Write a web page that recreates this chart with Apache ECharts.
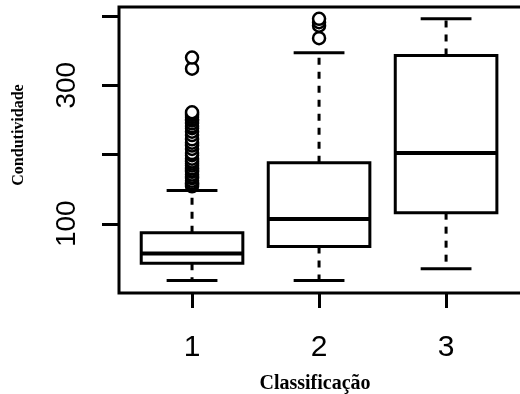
<!DOCTYPE html>
<html>
<head>
<meta charset="utf-8">
<script src="https://cdn.jsdelivr.net/npm/echarts@6/dist/echarts.min.js"></script>
<style>html,body{margin:0;padding:0;background:#fff;}#c{width:520px;height:394px;}</style>
</head>
<body>
<div id="c"></div>
<script>
var categories = [1, 2, 3];
var lowerWhisker = [18, 18, 35];
var q1 = [43, 67, 116];
var median = [57, 107, 202];
var q3 = [87, 188, 343];
var upperWhisker = [148, 347, 396];
var outliers1 = [154, 157, 159, 162, 166, 168, 171, 175, 177, 180, 184, 187, 190, 194, 199, 202, 208, 213, 217, 222, 228, 233, 238, 241, 245, 249, 251, 254, 257, 259, 261, 324, 340];
var outliers2 = [368, 386, 391, 396];
var outliers3 = [];
var yTicks = [100, 200, 300, 400];
var yLabels = [100, 300];

var boxData = categories.map(function (c, i) {
  return [c, lowerWhisker[i], q1[i], median[i], q3[i], upperWhisker[i]];
});
var outData = [];
[outliers1, outliers2, outliers3].forEach(function (arr, i) {
  arr.forEach(function (v) { outData.push([categories[i], v]); });
});

var chart = echarts.init(document.getElementById('c'));
chart.setOption({
  animation: false,
  backgroundColor: '#fff',
  grid: { left: 119, top: 7, width: 409, height: 286, outerBoundsMode: 'none', containLabel: false, show: true, borderColor: '#000', borderWidth: 3, backgroundColor: 'transparent' },
  xAxis: {
    type: 'value', min: 0.425, max: 3.645,
    axisLine: { show: false },
    splitLine: { show: false },
    axisTick: { show: true, customValues: categories, length: 15, lineStyle: { color: '#000', width: 3 } },
    axisLabel: { customValues: categories, margin: 40, fontFamily: 'Liberation Sans', fontSize: 30, color: '#000' }
  },
  yAxis: {
    type: 'value', min: 0, max: 413,
    axisLine: { show: false },
    splitLine: { show: false },
    axisTick: { show: true, customValues: yTicks, length: 17, lineStyle: { color: '#000', width: 3 } },
    axisLabel: { customValues: yLabels, rotate: 90, margin: 38, fontFamily: 'Liberation Sans', fontSize: 28, color: '#000' }
  },
  graphic: [
    { type: 'text', x: 19, y: 135, rotation: Math.PI / 2, style: { text: 'Condutividade', font: 'bold 16px "Liberation Serif"', fill: '#000', align: 'center', verticalAlign: 'middle' } },
    { type: 'text', x: 315, y: 384, style: { text: 'Classificação', font: 'bold 20px "Liberation Serif"', fill: '#000', align: 'center', verticalAlign: 'middle' } }
  ],
  series: [
    {
      type: 'custom',
      data: boxData,
      encode: { x: 0, y: [1, 2, 3, 4, 5] },
      renderItem: function (params, api) {
        var x = api.value(0);
        var lo = api.value(1), a = api.value(2), m = api.value(3), b = api.value(4), hi = api.value(5);
        var pL = api.coord([x - 0.4, b]);
        var pR = api.coord([x + 0.4, a]);
        var c = api.coord([x, m]);
        var ca = api.coord([x, a]);
        var cb = api.coord([x, b]);
        var clo = api.coord([x, lo]);
        var chi = api.coord([x, hi]);
        var capL = api.coord([x - 0.2, lo])[0];
        var capR = api.coord([x + 0.2, lo])[0];
        var solid = { stroke: '#000', lineWidth: 3, fill: null };
        var dashed = { stroke: '#000', lineWidth: 3, lineDash: [7, 7], fill: null };
        return {
          type: 'group',
          children: [
            { type: 'line', shape: { x1: cb[0], y1: cb[1], x2: chi[0], y2: chi[1] }, style: dashed },
            { type: 'line', shape: { x1: ca[0], y1: ca[1], x2: clo[0], y2: clo[1] }, style: dashed },
            { type: 'line', shape: { x1: capL, y1: chi[1], x2: capR, y2: chi[1] }, style: solid },
            { type: 'line', shape: { x1: capL, y1: clo[1], x2: capR, y2: clo[1] }, style: solid },
            { type: 'rect', shape: { x: pL[0], y: pL[1], width: pR[0] - pL[0], height: pR[1] - pL[1] }, style: { stroke: '#000', lineWidth: 3, fill: '#fff' } },
            { type: 'line', shape: { x1: pL[0], y1: c[1], x2: pR[0], y2: c[1] }, style: { stroke: '#000', lineWidth: 4 } }
          ]
        };
      },
      z: 2
    },
    {
      type: 'scatter',
      data: outData,
      symbol: 'circle',
      symbolSize: 12,
      itemStyle: { color: '#fff', borderColor: '#000', borderWidth: 2.5, opacity: 1 },
      z: 3
    }
  ]
});
</script>
</body>
</html>
